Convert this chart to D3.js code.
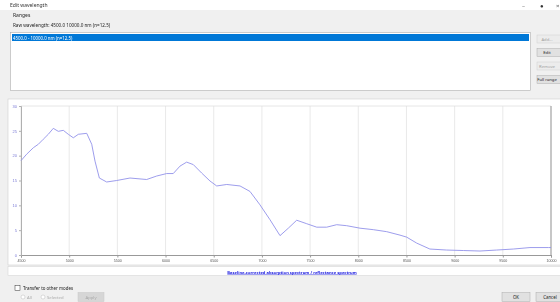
<!DOCTYPE html>
<html>
<head>
<meta charset="utf-8">
<script src="https://cdn.jsdelivr.net/npm/d3@7"></script>
<style>
  body { margin: 0; background: #f0f0f0; overflow: hidden; }
  svg { display: block; font-family: "Segoe UI", "Noto Sans", sans-serif; filter: blur(0.35px); }
</style>
</head>
<body>
<svg id="dialog" width="560" height="302"></svg>
<script>
// wavelength (x) and signal (y)
var wavelengths = [4500, 4559, 4628, 4680, 4731, 4783, 4835, 4887, 4939, 4991, 5043, 5095,
  5182, 5234, 5268, 5313, 5389, 5493, 5631, 5804, 5908, 6012, 6080, 6150, 6219, 6288,
  6375, 6461, 6531, 6635, 6773, 6876, 6980, 7084, 7188, 7274, 7361, 7465, 7569, 7672,
  7776, 7880, 8018, 8156, 8295, 8433, 8502, 8606, 8743, 8917, 9090, 9263, 9436, 9609,
  9782, 9972, 10000];
var signal = [19.0, 20.3, 21.6, 22.3, 23.3, 24.3, 25.5, 24.9, 25.1, 24.3, 23.6, 24.3,
  24.5, 22.3, 18.9, 15.5, 14.7, 15.0, 15.5, 15.2, 15.9, 16.4, 16.4, 17.9, 18.7, 18.2,
  16.5, 14.9, 13.9, 14.2, 13.9, 12.8, 10.1, 7.1, 3.9, 5.4, 7.0, 6.3, 5.6, 5.6,
  6.1, 5.9, 5.4, 5.1, 4.7, 4.0, 3.6, 2.4, 1.2, 1.0, 0.9, 0.8, 1.0, 1.2,
  1.5, 1.5, 1.5];
var xTicks = [4500, 5000, 5500, 6000, 6500, 7000, 7500, 8000, 8500, 9000, 9500, 10000];
var yTicks = [0, 5, 10, 15, 20, 25, 30];
var sideButtons = ["Add...", "Edit", "Remove", "Full range"];
var sideEnabled = [false, true, false, true];

var svg = d3.select("#dialog");

// title bar
svg.append("rect").attr("x", 0).attr("y", 0).attr("width", 560).attr("height", 10).attr("fill", "#fff");
svg.append("text").attr("x", 10).attr("y", 7).attr("font-size", 5).attr("fill", "#333").text("Edit wavelength");
svg.append("text").attr("x", 522).attr("y", 8).attr("font-size", 6).attr("fill", "#777").text("–");
svg.append("text").attr("x", 540).attr("y", 8).attr("font-size", 6).attr("fill", "#333").text("●");
svg.append("text").attr("x", 556).attr("y", 8).attr("font-size", 6).attr("fill", "#555").text("×");

// ranges group
svg.append("text").attr("x", 13).attr("y", 17).attr("font-size", 5).attr("fill", "#222").text("Ranges");
svg.append("text").attr("x", 13).attr("y", 27).attr("font-size", 4.6).attr("fill", "#222")
  .text("Raw wavelength:    4500.0     10000.0 nm (n=12.5)");

svg.append("rect").attr("x", 10.5).attr("y", 32.5).attr("width", 520).attr("height", 58)
  .attr("fill", "#fff").attr("stroke", "#adadad").attr("stroke-width", 0.6);
svg.append("rect").attr("x", 12).attr("y", 34).attr("width", 517).attr("height", 7).attr("fill", "#0078d7");
svg.append("text").attr("x", 13).attr("y", 39.5).attr("font-size", 4.4).attr("fill", "#fff")
  .text("4500.0 - 10000.0 nm (n=12.5)");

var btn = svg.selectAll(".side").data(sideButtons).enter().append("g")
  .attr("class", "side")
  .attr("transform", function (d, i) { return "translate(537," + (35 + i * 13.5) + ")"; });
btn.append("rect").attr("width", 26).attr("height", 8)
  .attr("fill", function (d, i) { return sideEnabled[i] ? "#e1e1e1" : "#ececec"; })
  .attr("stroke", function (d, i) { return sideEnabled[i] ? "#adadad" : "#d0d0d0"; })
  .attr("stroke-width", 0.5);
btn.append("text").attr("x", 10).attr("y", 5.6).attr("font-size", 4.2).attr("text-anchor", "middle")
  .attr("fill", function (d, i) { return sideEnabled[i] ? "#222" : "#a0a0a0"; })
  .text(function (d) { return d; });

// chart panel
svg.append("rect").attr("x", 8).attr("y", 99).attr("width", 560).attr("height", 166)
  .attr("fill", "#fff").attr("stroke", "#cfcfcf").attr("stroke-width", 0.6);

var plot = { left: 21, right: 551, top: 106, bottom: 255 };
var x = d3.scaleLinear().domain([4500, 10000]).range([plot.left, plot.right]);
var y = d3.scaleLinear().domain([0, 30]).range([plot.bottom, plot.top]);

// vertical grid
svg.append("g").selectAll("line").data(xTicks).enter().append("line")
  .attr("x1", function (d) { return x(d); }).attr("x2", function (d) { return x(d); })
  .attr("y1", plot.top).attr("y2", plot.bottom)
  .attr("stroke", "#e3e3e3").attr("stroke-width", 0.8);
svg.append("line").attr("x1", plot.left).attr("x2", plot.right).attr("y1", plot.top).attr("y2", plot.top)
  .attr("stroke", "#e0e0e0").attr("stroke-width", 0.8);
svg.append("line").attr("x1", plot.right).attr("x2", plot.right).attr("y1", plot.top).attr("y2", plot.bottom)
  .attr("stroke", "#9a9a9a").attr("stroke-width", 1);

var xAxis = svg.append("g").attr("transform", "translate(0," + plot.bottom + ")")
  .call(d3.axisBottom(x).tickValues(xTicks).tickSize(2.5).tickPadding(1.5).tickFormat(d3.format("d")));
xAxis.select(".domain").attr("stroke", "#999");
xAxis.selectAll(".tick line").attr("stroke", "#999");
xAxis.selectAll("text").attr("font-size", 3.6).attr("fill", "#555").attr("font-family", "inherit");

var yAxis = svg.append("g").attr("transform", "translate(" + plot.left + ",0)")
  .call(d3.axisLeft(y).tickValues(yTicks).tickSize(2).tickPadding(2));
yAxis.select(".domain").attr("stroke", "#b0b0b0");
yAxis.selectAll(".tick line").attr("stroke", "#b0b0b0");
yAxis.selectAll("text").attr("font-size", 4).attr("fill", "#7a7ad6").attr("font-family", "inherit");

var line = d3.line()
  .x(function (d, i) { return x(wavelengths[i]); })
  .y(function (d) { return y(d); })
  .curve(d3.curveLinear);
svg.append("path").datum(signal).attr("d", line)
  .attr("fill", "none").attr("stroke", "#9292ea").attr("stroke-width", 0.9);

// caption link row
svg.append("rect").attr("x", 8).attr("y", 266.5).attr("width", 560).attr("height", 9)
  .attr("fill", "#fff").attr("stroke", "#cfcfcf").attr("stroke-width", 0.5);
svg.append("text").attr("x", 292).attr("y", 273.5).attr("text-anchor", "middle")
  .attr("font-size", 4.1).attr("font-weight", "bold").attr("fill", "#1a1adf")
  .attr("text-decoration", "underline")
  .text("Baseline-corrected absorption spectrum / reflectance spectrum");

// bottom controls
svg.append("rect").attr("x", 15).attr("y", 285.5).attr("width", 5).attr("height", 5)
  .attr("fill", "#fff").attr("stroke", "#333").attr("stroke-width", 0.5);
svg.append("text").attr("x", 23).attr("y", 290).attr("font-size", 4.4).attr("fill", "#222")
  .text("Transfer to other modes");
svg.append("circle").attr("cx", 23).attr("cy", 297).attr("r", 2).attr("fill", "#fff").attr("stroke", "#bbb").attr("stroke-width", 0.5);
svg.append("text").attr("x", 27).attr("y", 298.5).attr("font-size", 4.2).attr("fill", "#aaa").text("All");
svg.append("circle").attr("cx", 43).attr("cy", 297).attr("r", 2).attr("fill", "#fff").attr("stroke", "#bbb").attr("stroke-width", 0.5);
svg.append("text").attr("x", 47).attr("y", 298.5).attr("font-size", 4.2).attr("fill", "#aaa").text("Selected");
svg.append("rect").attr("x", 78).attr("y", 292.5).attr("width", 26).attr("height", 9)
  .attr("fill", "#d6d6d6").attr("stroke", "#c8c8c8").attr("stroke-width", 0.5);
svg.append("text").attr("x", 91).attr("y", 298.5).attr("text-anchor", "middle").attr("font-size", 4.2)
  .attr("fill", "#a8a8a8").text("Apply");

var footer = svg.selectAll(".footer").data(["OK", "Cancel"]).enter().append("g")
  .attr("class", "footer")
  .attr("transform", function (d, i) { return "translate(" + (502 + i * 34) + ",292.5)"; });
footer.append("rect").attr("width", 28).attr("height", 9)
  .attr("fill", "#e1e1e1").attr("stroke", "#adadad").attr("stroke-width", 0.5);
footer.append("text").attr("x", 14).attr("y", 6).attr("text-anchor", "middle").attr("font-size", 4.4)
  .attr("fill", "#222").text(function (d) { return d; });
</script>
</body>
</html>
